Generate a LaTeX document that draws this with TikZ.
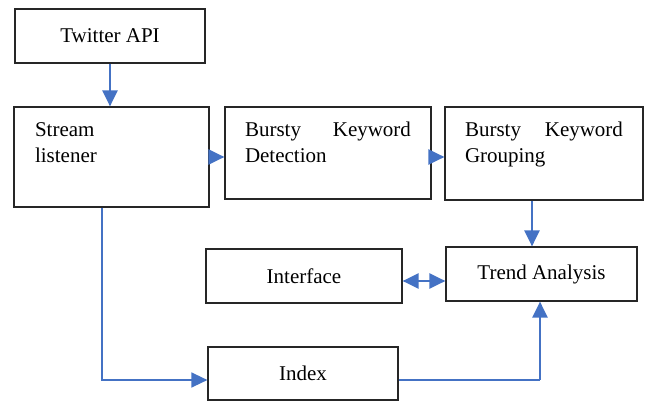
\documentclass[tikz,border=0pt]{standalone}
\usepackage{fontspec}
\setmainfont{Liberation Serif}
\usetikzlibrary{arrows.meta}
\definecolor{wordblue}{HTML}{4472C4}

\begin{document}
\begin{tikzpicture}[x=1pt,y=-1pt,>={Triangle[width=15pt,length=16pt]},
  font=\fontsize{21}{25}\selectfont,
  box/.style={draw=black!85,line width=1.2pt,inner sep=0pt},
  tallbox/.style={box,align=left,inner xsep=20pt,inner ysep=10pt,text height=20pt},
  flow/.style={wordblue,line width=2.4pt},
  link/.style={wordblue,line width=1.4pt}]
  \useasboundingbox (0,0) rectangle (645,401);
  \node[box,minimum width=190pt,minimum height=54pt] (api) at (110,36) {Twitter API};
  \node[tallbox,inner xsep=21pt,text width=153pt,text depth=60pt] (listen) at (111.5,157) {Stream\\listener};
  \node[tallbox,text width=166pt,text depth=52pt] (det) at (328,153) {Bursty\hfill Keyword\\Detection};
  \node[tallbox,text width=158pt,text depth=53pt] (grp) at (544,153.5) {Bursty\hfill Keyword\\Grouping};
  \node[box,minimum width=196pt,minimum height=54pt] (iface) at (304,276) {Interface};
  \node[box,minimum width=191pt,minimum height=54pt] (trend) at (541.5,274) {Trend Analysis};
  \node[box,minimum width=190pt,minimum height=53pt] (idx) at (303,373.5) {Index};
  \coordinate (gt) at (532,0);
  \coordinate (it) at (0,281);
  \coordinate (li) at (102,380);
  \coordinate (ti) at (540,0);
  \draw[flow,->] (api.south) -- (api.south |- listen.north);
  \draw[flow,->] (listen.east) -- (listen.east -| det.west);
  \draw[flow,->] (listen.east -| det.east) -- (listen.east -| grp.west);
  \draw[flow,->] (gt |- grp.south) -- (gt |- trend.north);
  \draw[flow,<->] (iface.east |- it) -- (trend.west |- it);
  \draw[link,->] (li |- listen.south) |- (idx.west |- li);
  \draw[link] (idx.east |- li) -- (ti |- li);
  \draw[flow,->] (ti |- li) -- (ti |- trend.south);
\end{tikzpicture}
\end{document}
